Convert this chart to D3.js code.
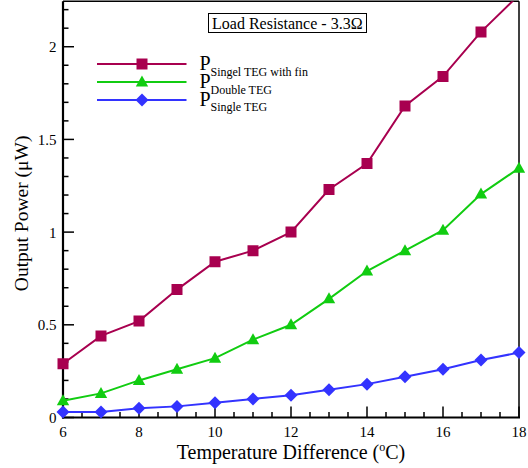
<!DOCTYPE html>
<html><head><meta charset="utf-8">
<script src="https://cdn.jsdelivr.net/npm/d3@7"></script>
<style>body{margin:0;background:#fff}text{font-family:"Liberation Serif","DejaVu Serif",serif}</style>
</head><body>
<svg id="c" width="528" height="468"></svg>
<script>
const temps = [6,7,8,9,10,11,12,13,14,15,16,17,18];
const finTEG = [0.29,0.44,0.52,0.69,0.84,0.90,1.00,1.23,1.37,1.68,1.84,2.08,2.28];
const doubleTEG = [0.09,0.13,0.20,0.26,0.32,0.42,0.50,0.64,0.79,0.90,1.01,1.205,1.345];
const singleTEG = [0.03,0.03,0.05,0.06,0.08,0.10,0.12,0.15,0.18,0.22,0.26,0.31,0.35];
const xTickLabels = [6,8,10,12,14,16,18];
const yTickLabels = [0,0.5,1,1.5,2];

const FONT = "Liberation Serif, DejaVu Serif, serif";
const svg = d3.select("#c");
const L=63, R=519, T=1.3, B=417.5;
const x = d3.scaleLinear().domain([6,18]).range([L,R]);
const y = d3.scaleLinear().domain([0,2.245]).range([B,T]);

const series = [
  {name:"fin", vals:finTEG, color:"#a8004f", sym:"square"},
  {name:"double", vals:doubleTEG, color:"#11cc11", sym:"triangle"},
  {name:"single", vals:singleTEG, color:"#3333ff", sym:"diamond"}
];
function symPath(s){
  if(s==="square") return "M-5.5,-5.5H5.5V5.5H-5.5Z";
  if(s==="triangle") return "M0,-6.5L6.2,4.5L-6.2,4.5Z";
  return "M0,-6.5L6.5,0L0,6.5L-6.5,0Z";
}

svg.append("defs").append("clipPath").attr("id","clip")
  .append("rect").attr("x",L-12).attr("y",T).attr("width",R-L+24).attr("height",B-T+12);

svg.append("line").attr("x1",L).attr("x2",R).attr("y1",T).attr("y2",T).attr("stroke","#000").attr("stroke-width",1.5);
svg.append("line").attr("x1",R).attr("x2",R).attr("y1",T).attr("y2",B).attr("stroke","#000").attr("stroke-width",1.5);

const xMinor = d3.range(6,18.01,0.5);
const gx = svg.append("g");
gx.selectAll("line.t").data(xMinor).join("line")
  .attr("x1",d=>x(d)).attr("x2",d=>x(d))
  .attr("y1",B).attr("y2",d=>B-(d%2===0?11:5.5))
  .attr("stroke","#000").attr("stroke-width",1.5);
gx.selectAll("text").data(xTickLabels).join("text")
  .attr("x",d=>x(d)).attr("y",436.5).attr("text-anchor","middle")
  .attr("font-family",FONT).attr("font-size",15).text(d=>d);
gx.append("line").attr("x1",L-1).attr("x2",R+1).attr("y1",B).attr("y2",B).attr("stroke","#000").attr("stroke-width",2.2);

const yMinor = d3.range(0,22.5,1).map(d=>d/10);
const gy = svg.append("g");
gy.selectAll("line.t").data(yMinor).join("line")
  .attr("y1",d=>y(d)).attr("y2",d=>y(d))
  .attr("x1",L).attr("x2",(d,i)=>L+(i%5===0?11:5.5))
  .attr("stroke","#000").attr("stroke-width",1.5);
gy.selectAll("text").data(yTickLabels).join("text")
  .attr("x",56.5).attr("y",d=>y(d)).attr("dy","0.36em").attr("text-anchor","end")
  .attr("font-family",FONT).attr("font-size",15).text(d=>d);
gy.append("line").attr("x1",L).attr("x2",L).attr("y1",T).attr("y2",B+1).attr("stroke","#000").attr("stroke-width",2.2);

const xt = svg.append("text").attr("x",(L+R)/2).attr("y",459).attr("text-anchor","middle")
  .attr("font-family",FONT).attr("font-size",20);
xt.append("tspan").text("Temperature Difference (");
xt.append("tspan").attr("font-size",12).attr("dy",-8).text("o");
xt.append("tspan").attr("dy",8).text("C)");
svg.append("text").attr("transform",`translate(28,${(T+B)/2+4}) rotate(-90)`)
  .attr("text-anchor","middle").attr("font-family",FONT).attr("font-size",19.5).text("Output Power (\u03bcW)");

const plot = svg.append("g").attr("clip-path","url(#clip)");
const line = d3.line().x((d,i)=>x(temps[i])).y(d=>y(d));
series.forEach(s=>{
  plot.append("path").attr("d",line(s.vals)).attr("fill","none").attr("stroke",s.color).attr("stroke-width",2);
  plot.selectAll(null).data(s.vals).join("path")
    .attr("d",symPath(s.sym)).attr("fill",s.color)
    .attr("transform",(d,i)=>`translate(${x(temps[i])},${y(d)})`);
});

svg.append("rect").attr("x",208.5).attr("y",13.5).attr("width",158).attr("height",19)
  .attr("fill","#fff").attr("stroke","#000").attr("stroke-width",1);
svg.append("text").attr("x",212).attr("y",28.5).attr("font-family",FONT).attr("font-size",16).text("Load Resistance - 3.3\u03a9");

const leg = [
  {s:series[0], y:64, pBase:70, sub:"Singel TEG with fin", subBase:75.5},
  {s:series[1], y:82, pBase:88, sub:"Double TEG", subBase:93.5},
  {s:series[2], y:100, pBase:105.5, sub:"Single TEG", subBase:111}
];
leg.forEach(l=>{
  svg.append("line").attr("x1",97).attr("x2",186.5).attr("y1",l.y).attr("y2",l.y).attr("stroke",l.s.color).attr("stroke-width",2);
  svg.append("path").attr("d",symPath(l.s.sym)).attr("fill",l.s.color).attr("transform",`translate(142,${l.y})`);
  svg.append("text").attr("x",199.5).attr("y",l.pBase).attr("font-family",FONT).attr("font-size",20).text("P");
  svg.append("text").attr("x",210.5).attr("y",l.subBase).attr("font-family",FONT).attr("font-size",12).text(l.sub);
});
</script>
</body></html>
